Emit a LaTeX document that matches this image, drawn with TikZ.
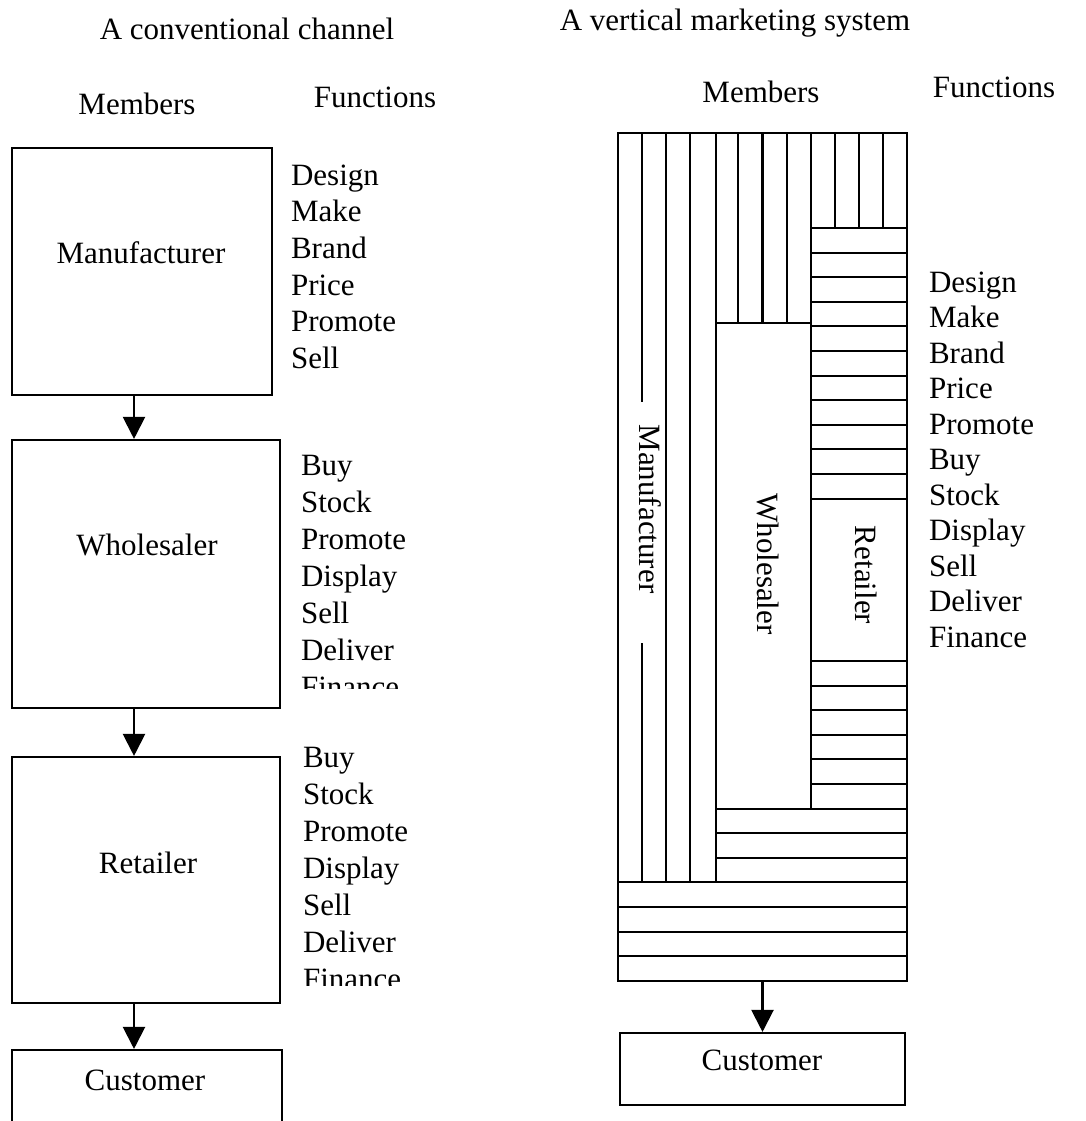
\documentclass[tikz,border=0pt]{standalone}
\usepackage{fontspec}
\setmainfont{Liberation Serif}
\usetikzlibrary{arrows.meta}

\begin{document}
\begin{tikzpicture}[x=1pt, y=-1pt, line width=2.1pt,
  font=\fontsize{31}{37}\selectfont,
  member/.style={draw, inner sep=0pt},
  head/.style={anchor=base, inner sep=0pt},
  func/.style={anchor=base west, inner sep=0pt},
  flow/.style={-{Triangle[length=22pt,width=22pt]}}]
\useasboundingbox (0,0) rectangle (1085,1121);
\clip (0,0) rectangle (1085,1121);

% A conventional channel (left)
\node[head] (title1) at (247,40) {A conventional channel};
\node[head] (mem1) at (137,115) {Members};
\node[head] (fun1) at (375,108) {Functions};

% Member boxes
\node[member, minimum width=260pt, minimum height=247pt] (manu) at (142,271.5) {};
\node[head] (manu-t) at (141,263) {Manufacturer};
\node[member, minimum width=268pt, minimum height=268pt] (whole) at (146,574) {};
\node[head] (whole-t) at (147,555) {Wholesaler};
\node[member, minimum width=268pt, minimum height=246pt] (retail) at (146,880) {};
\node[head] (retail-t) at (148,873) {Retailer};
\node[member, minimum width=270pt, minimum height=80pt] (cust1) at (147,1090) {};
\node[head] (cust1-t) at (145,1090) {Customer};

% Flow arrows
\coordinate (ax) at (134,0);
\draw[flow] (manu.south -| ax) -- (whole.north -| ax);
\draw[flow] (whole.south -| ax) -- (retail.north -| ax);
\draw[flow] (retail.south -| ax) -- (cust1.north -| ax);

% Functions of each member
\foreach \w [count=\i from 0] in {Design,Make,Brand,Price,Promote,Sell}
  \node[func] (fm\i) at (290,185+36.7*\i) {\w};
\begin{scope}
\clip (285,440) rectangle (520,688);
\foreach \w [count=\i from 0] in {Buy,Stock,Promote,Display,Sell,Deliver,Finance}
  \node[func] (fw\i) at (300,475+37*\i) {\w};
\end{scope}
\begin{scope}
\clip (285,740) rectangle (520,985);
\foreach \w [count=\i from 0] in {Buy,Stock,Promote,Display,Sell,Deliver,Finance}
  \node[func] (fr\i) at (302,767+37*\i) {\w};
\end{scope}

% A vertical marketing system (right)
\node[head] (title2) at (735,31) {A vertical marketing system};
\node[head] (mem2) at (761,103) {Members};
\node[head] (fun2) at (994,98) {Functions};

% Outer frame
\node[member, minimum width=289pt, minimum height=847.8pt] (vms) at (762.5,556.9) {};

% Manufacturer strips
\foreach \i in {2,3}
  \draw (618+24.083*\i,133) -- (618+24.083*\i,882.4);
\draw (642.1,133) -- (642.1,402);
\draw (642.1,643) -- (642.1,882.4);
\draw (716.3,133) -- (716.3,882.4);

% Wholesaler strips
\foreach \i in {5,6,7}
  \draw (618+24.083*\i,133) -- (618+24.083*\i,323);
\draw (716.3,323) -- (810.7,323);
\draw (810.7,133) -- (810.7,808.6);

% Retailer strips
\foreach \i in {9,10,11}
  \draw (618+24.083*\i,133) -- (618+24.083*\i,228);
\foreach \k in {0,...,11}
  \draw (810.7,228+24.6*\k) -- (907,228+24.6*\k);

% Lower rows
\foreach \k in {0,...,5}
  \draw (810.7,661+24.6*\k) -- (907,661+24.6*\k);
\foreach \k in {6,7,8}
  \draw (716.3,661+24.6*\k) -- (907,661+24.6*\k);
\foreach \k in {9,...,12}
  \draw (618,661+24.6*\k) -- (907,661+24.6*\k);

% Member labels
\node[rotate=-90, inner sep=0pt] (manu-v) at (650,509) {Manufacturer};
\node[rotate=-90, inner sep=0pt] (whole-v) at (768,564) {Wholesaler};
\node[rotate=-90, inner sep=0pt] (retail-v) at (866,575) {Retailer};

% Functions
\foreach \w [count=\i from 0] in {Design,Make,Brand,Price,Promote,Buy,Stock,Display,Sell,Deliver,Finance}
  \node[func] (fv\i) at (928,292+35.5*\i) {\w};

% Customer
\node[member, minimum width=285pt, minimum height=72pt] (cust2) at (762.5,1069) {};
\node[head] (cust2-t) at (762,1070) {Customer};
\draw[flow] (vms.south) -- (cust2.north);

\end{tikzpicture}
\end{document}
